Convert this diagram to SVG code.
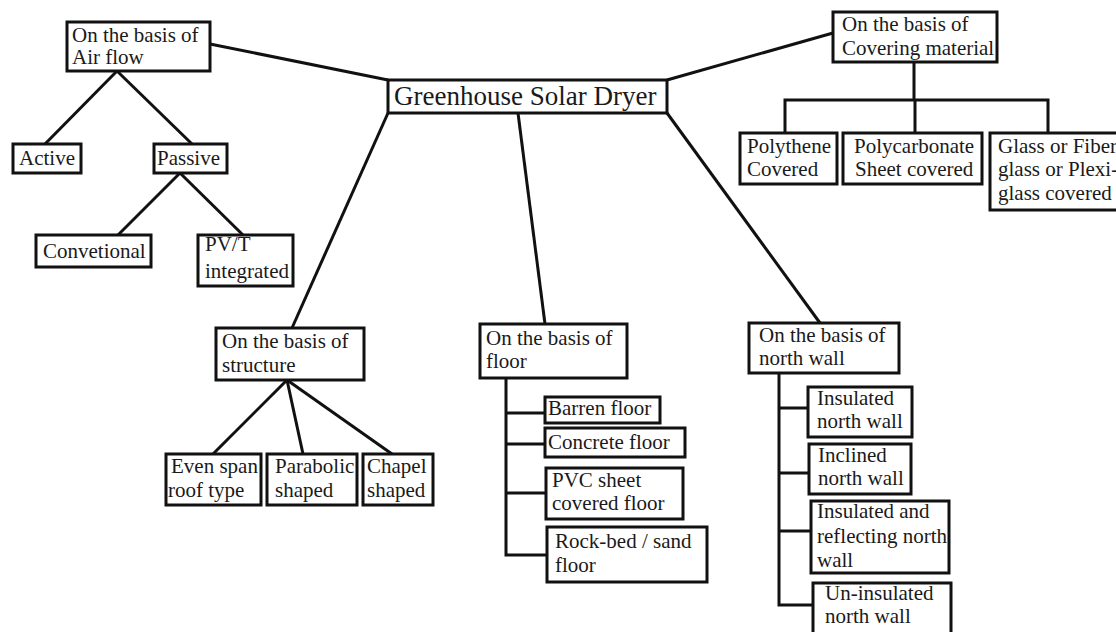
<svg xmlns="http://www.w3.org/2000/svg" width="1116" height="632" viewBox="0 0 1116 632">
<style>
.box{fill:#fff;stroke:#111;stroke-width:3}
.c{fill:none;stroke:#111;stroke-width:3;stroke-linejoin:miter}
text{font-family:"Liberation Serif","Times New Roman",serif;font-size:21px;fill:#1a1a1a}
.big{font-size:27px}
</style>
<rect width="1116" height="632" fill="#fff"/>
<g id="connectors">
<line class="c" x1="210" y1="44" x2="388" y2="80"/>
<line class="c" x1="667" y1="80" x2="833" y2="33"/>
<line class="c" x1="388" y1="113" x2="292" y2="328"/>
<line class="c" x1="518" y1="113" x2="545" y2="324"/>
<line class="c" x1="667" y1="113" x2="820" y2="323"/>
<line class="c" x1="117" y1="71" x2="45" y2="144"/>
<line class="c" x1="117" y1="71" x2="192" y2="144"/>
<line class="c" x1="180" y1="173" x2="118" y2="235"/>
<line class="c" x1="180" y1="173" x2="243" y2="235"/>
<path class="c" d="M914 62V100M785 133V100H1048V133M915 100V133"/>
<line class="c" x1="287" y1="380" x2="213" y2="454"/>
<line class="c" x1="287" y1="380" x2="303" y2="454"/>
<line class="c" x1="287" y1="380" x2="392" y2="454"/>
<path class="c" d="M506 378V555H547M506 413H545M506 444H545M506 493H546"/>
<path class="c" d="M779 373V605H813M779 408H808M779 473H809M779 531H811"/>
</g>
<g id="root"><rect class="box" x="388" y="80" width="279" height="33"/><text class="big" x="394" y="105">Greenhouse Solar Dryer</text></g>
<g id="airflow"><rect class="box" x="67" y="22" width="143" height="49"/><text x="72" y="42">On the basis of</text><text x="72" y="64">Air flow</text></g>
<g id="active"><rect class="box" x="13" y="144" width="68" height="29"/><text x="19" y="165">Active</text></g>
<g id="passive"><rect class="box" x="154" y="144" width="73" height="29"/><text x="157" y="165">Passive</text></g>
<g id="convetional"><rect class="box" x="36" y="235" width="115" height="32"/><text x="43" y="258">Convetional</text></g>
<g id="pvt"><rect class="box" x="198" y="235" width="95" height="51"/><text x="205" y="251">PV/T</text><text x="205" y="278">integrated</text></g>
<g id="covering"><rect class="box" x="833" y="12" width="164" height="50"/><text x="842" y="31">On the basis of</text><text x="842" y="55">Covering material</text></g>
<g id="polythene"><rect class="box" x="740" y="133" width="97" height="51"/><text x="747" y="153">Polythene</text><text x="747" y="176">Covered</text></g>
<g id="polycarbonate"><rect class="box" x="843" y="133" width="139" height="51"/><text x="854" y="153">Polycarbonate</text><text x="855" y="176">Sheet covered</text></g>
<g id="glass"><rect class="box" x="990" y="133" width="140" height="77"/><text x="998" y="153">Glass or Fiber</text><text x="998" y="176">glass or Plexi-</text><text x="998" y="200">glass covered</text></g>
<g id="structure"><rect class="box" x="216" y="328" width="148" height="52"/><text x="222" y="348">On the basis of</text><text x="222" y="372">structure</text></g>
<g id="evenspan"><rect class="box" x="166" y="454" width="95" height="51"/><text x="171" y="473">Even span</text><text x="168" y="497">roof type</text></g>
<g id="parabolic"><rect class="box" x="267" y="454" width="90" height="51"/><text x="275" y="473">Parabolic</text><text x="275" y="497">shaped</text></g>
<g id="chapel"><rect class="box" x="363" y="454" width="70" height="51"/><text x="367" y="473">Chapel</text><text x="367" y="497">shaped</text></g>
<g id="floor"><rect class="box" x="480" y="324" width="147" height="54"/><text x="486" y="345">On the basis of</text><text x="486" y="368">floor</text></g>
<g id="barren"><rect class="box" x="545" y="397" width="115" height="26"/><text x="548" y="415">Barren floor</text></g>
<g id="concrete"><rect class="box" x="545" y="428" width="140" height="29"/><text x="548" y="449">Concrete floor</text></g>
<g id="pvc"><rect class="box" x="546" y="468" width="137" height="51"/><text x="552" y="487">PVC sheet</text><text x="552" y="510">covered floor</text></g>
<g id="rockbed"><rect class="box" x="547" y="527" width="160" height="55"/><text x="555" y="548">Rock-bed / sand</text><text x="555" y="572">floor</text></g>
<g id="northwall"><rect class="box" x="749" y="323" width="150" height="50"/><text x="759" y="342">On the basis of</text><text x="759" y="365">north wall</text></g>
<g id="insulated"><rect class="box" x="808" y="387" width="104" height="50"/><text x="817" y="405">Insulated</text><text x="817" y="428">north wall</text></g>
<g id="inclined"><rect class="box" x="809" y="444" width="102" height="50"/><text x="818" y="462">Inclined</text><text x="818" y="485">north wall</text></g>
<g id="reflecting"><rect class="box" x="811" y="501" width="138" height="72"/><text x="817" y="518">Insulated and</text><text x="817" y="543">reflecting north</text><text x="817" y="567">wall</text></g>
<g id="uninsulated"><rect class="box" x="813" y="583" width="138" height="60"/><text x="825" y="600">Un-insulated</text><text x="825" y="623">north wall</text></g>
</svg>
